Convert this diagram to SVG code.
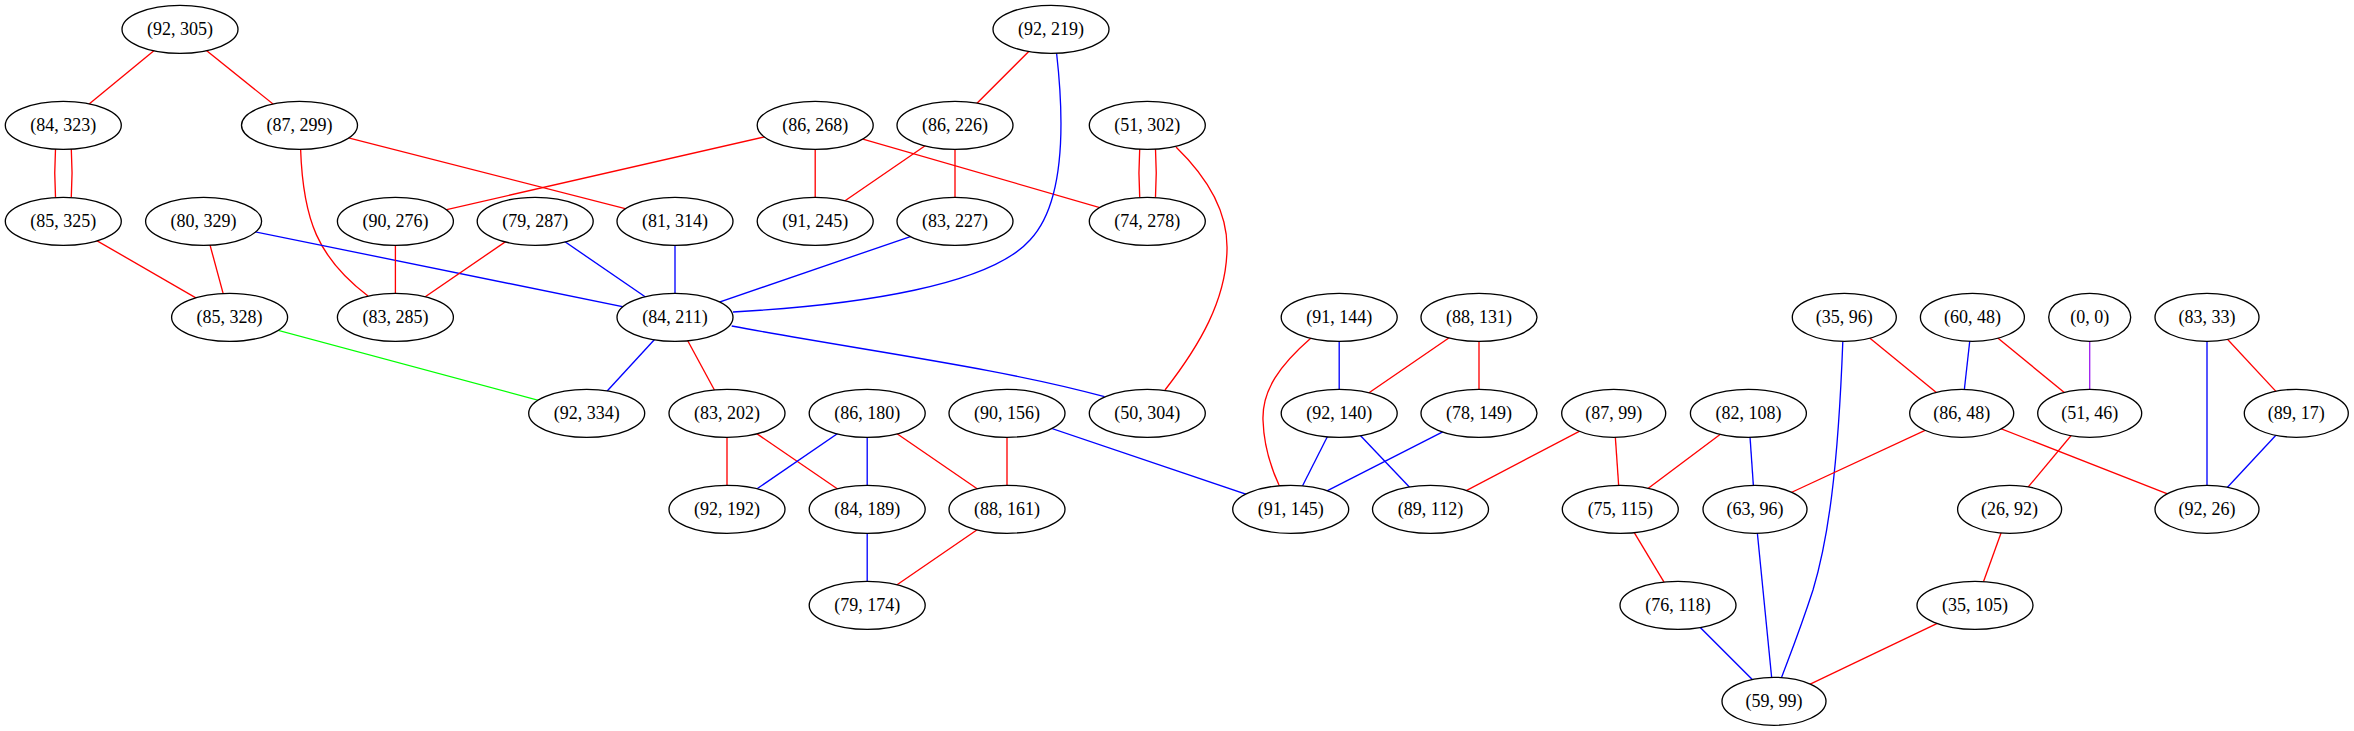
<svg xmlns="http://www.w3.org/2000/svg" width="2354" height="731" viewBox="0 0 2354 731">
<style>
.n ellipse{fill:#fff;stroke:#000;stroke-width:1.33}
.n text{font-family:"Liberation Serif","Times New Roman",serif;font-size:18px;text-anchor:middle;fill:#000}
#edges path,#edges line{fill:none;stroke-width:1.33}
.r{stroke:#ff0000}.b{stroke:#0000ff}.g{stroke:#00ff00}.p{stroke:#a020f0}
</style>
<rect width="2354" height="731" fill="#fff"/>
<g id="edges">
<line class="r" x1="180" y1="29.3" x2="63.3" y2="125.3"/>
<line class="r" x1="180" y1="29.3" x2="299.5" y2="125.3"/>
<path class="r" d="M55.5,149 C54.5,165 54.5,181 55.5,197"/>
<path class="r" d="M71.3,149 C72.3,165 72.3,181 71.3,197"/>
<line class="r" x1="299.5" y1="125.3" x2="675" y2="221.3"/>
<path class="r" d="M300.6,149 C303,220 318,258 368,296"/>
<line class="r" x1="815.2" y1="125.3" x2="395.4" y2="221.3"/>
<line class="r" x1="815.2" y1="125.3" x2="815.2" y2="221.3"/>
<line class="r" x1="815.2" y1="125.3" x2="1147.3" y2="221.3"/>
<line class="r" x1="1051" y1="29.3" x2="955" y2="125.3"/>
<path class="b" d="M1056.6,53.3 C1063,110 1068,200 1030,240 C990,285 860,305 733,312"/>
<line class="r" x1="955" y1="125.3" x2="815.2" y2="221.3"/>
<line class="r" x1="955" y1="125.3" x2="955" y2="221.3"/>
<path class="r" d="M1139.7,149 C1138.7,165 1138.7,181 1139.7,197"/>
<path class="r" d="M1155.5,149 C1156.5,165 1156.5,181 1155.5,197"/>
<path class="r" d="M1176,147 C1210,180 1228,215 1227,250 C1226,300 1200,345 1165,390"/>
<line class="r" x1="63.3" y1="221.3" x2="229.6" y2="317.3"/>
<line class="r" x1="203.6" y1="221.3" x2="229.6" y2="317.3"/>
<line class="b" x1="203.6" y1="221.3" x2="675" y2="317.3"/>
<line class="r" x1="395.4" y1="221.3" x2="395.4" y2="317.3"/>
<line class="r" x1="535.2" y1="221.3" x2="395.4" y2="317.3"/>
<line class="b" x1="535.2" y1="221.3" x2="675" y2="317.3"/>
<line class="b" x1="675" y1="221.3" x2="675" y2="317.3"/>
<line class="b" x1="955" y1="221.3" x2="675" y2="317.3"/>
<line class="g" x1="229.6" y1="317.3" x2="586.7" y2="413.3"/>
<line class="b" x1="675" y1="317.3" x2="586.7" y2="413.3"/>
<line class="r" x1="675" y1="317.3" x2="727" y2="413.3"/>
<path class="b" d="M731.7,326 C860,350 1000,368 1104.5,396.7"/>
<line class="r" x1="727" y1="413.3" x2="727" y2="509.3"/>
<line class="r" x1="727" y1="413.3" x2="867.2" y2="509.3"/>
<line class="b" x1="867.2" y1="413.3" x2="727" y2="509.3"/>
<line class="b" x1="867.2" y1="413.3" x2="867.2" y2="509.3"/>
<line class="r" x1="867.2" y1="413.3" x2="1007" y2="509.3"/>
<line class="r" x1="1007" y1="413.3" x2="1007" y2="509.3"/>
<line class="b" x1="1007" y1="413.3" x2="1290.7" y2="509.3"/>
<line class="b" x1="867.2" y1="509.3" x2="867.2" y2="605.3"/>
<line class="r" x1="1007" y1="509.3" x2="867.2" y2="605.3"/>
<line class="b" x1="1339.2" y1="317.3" x2="1339.2" y2="413.3"/>
<path class="r" d="M1311,338 C1280,365 1262,390 1263,420 C1264,450 1272,470 1279,485"/>
<line class="r" x1="1479" y1="317.3" x2="1339.2" y2="413.3"/>
<line class="r" x1="1479" y1="317.3" x2="1479" y2="413.3"/>
<line class="b" x1="1339.2" y1="413.3" x2="1290.7" y2="509.3"/>
<line class="b" x1="1339.2" y1="413.3" x2="1430.5" y2="509.3"/>
<line class="b" x1="1479" y1="413.3" x2="1290.7" y2="509.3"/>
<line class="r" x1="1613.7" y1="413.3" x2="1430.5" y2="509.3"/>
<line class="r" x1="1613.7" y1="413.3" x2="1620.3" y2="509.3"/>
<line class="r" x1="1748.4" y1="413.3" x2="1620.3" y2="509.3"/>
<line class="b" x1="1748.4" y1="413.3" x2="1755" y2="509.3"/>
<line class="r" x1="1844.3" y1="317.3" x2="1961.7" y2="413.3"/>
<path class="b" d="M1842.8,341.7 C1838,470 1828,540 1813,590 C1800,630 1790,655 1781,679"/>
<line class="b" x1="1972.4" y1="317.3" x2="1961.7" y2="413.3"/>
<line class="r" x1="1972.4" y1="317.3" x2="2089.7" y2="413.3"/>
<line class="p" x1="2089.7" y1="317.3" x2="2089.7" y2="413.3"/>
<line class="b" x1="2207" y1="317.3" x2="2207" y2="509.3"/>
<line class="r" x1="2207" y1="317.3" x2="2296.3" y2="413.3"/>
<line class="b" x1="2296.3" y1="413.3" x2="2207" y2="509.3"/>
<line class="r" x1="1961.7" y1="413.3" x2="1755" y2="509.3"/>
<line class="r" x1="1961.7" y1="413.3" x2="2207" y2="509.3"/>
<line class="r" x1="2089.7" y1="413.3" x2="2009.6" y2="509.3"/>
<line class="r" x1="2009.6" y1="509.3" x2="1975" y2="605.3"/>
<line class="r" x1="1975" y1="605.3" x2="1774" y2="701.3"/>
<line class="r" x1="1620.3" y1="509.3" x2="1678" y2="605.3"/>
<line class="b" x1="1678" y1="605.3" x2="1774" y2="701.3"/>
<line class="b" x1="1755" y1="509.3" x2="1774" y2="701.3"/>
</g>
<g id="n92_305" class="n"><ellipse cx="180" cy="29.3" rx="58" ry="24"/><text x="180" y="35.3">(92, 305)</text></g>
<g id="n92_219" class="n"><ellipse cx="1051" cy="29.3" rx="58" ry="24"/><text x="1051" y="35.3">(92, 219)</text></g>
<g id="n84_323" class="n"><ellipse cx="63.3" cy="125.3" rx="58" ry="24"/><text x="63.3" y="131.3">(84, 323)</text></g>
<g id="n87_299" class="n"><ellipse cx="299.5" cy="125.3" rx="58" ry="24"/><text x="299.5" y="131.3">(87, 299)</text></g>
<g id="n86_268" class="n"><ellipse cx="815.2" cy="125.3" rx="58" ry="24"/><text x="815.2" y="131.3">(86, 268)</text></g>
<g id="n86_226" class="n"><ellipse cx="955" cy="125.3" rx="58" ry="24"/><text x="955" y="131.3">(86, 226)</text></g>
<g id="n51_302" class="n"><ellipse cx="1147.3" cy="125.3" rx="58" ry="24"/><text x="1147.3" y="131.3">(51, 302)</text></g>
<g id="n85_325" class="n"><ellipse cx="63.3" cy="221.3" rx="58" ry="24"/><text x="63.3" y="227.3">(85, 325)</text></g>
<g id="n80_329" class="n"><ellipse cx="203.6" cy="221.3" rx="58" ry="24"/><text x="203.6" y="227.3">(80, 329)</text></g>
<g id="n90_276" class="n"><ellipse cx="395.4" cy="221.3" rx="58" ry="24"/><text x="395.4" y="227.3">(90, 276)</text></g>
<g id="n79_287" class="n"><ellipse cx="535.2" cy="221.3" rx="58" ry="24"/><text x="535.2" y="227.3">(79, 287)</text></g>
<g id="n81_314" class="n"><ellipse cx="675" cy="221.3" rx="58" ry="24"/><text x="675" y="227.3">(81, 314)</text></g>
<g id="n91_245" class="n"><ellipse cx="815.2" cy="221.3" rx="58" ry="24"/><text x="815.2" y="227.3">(91, 245)</text></g>
<g id="n83_227" class="n"><ellipse cx="955" cy="221.3" rx="58" ry="24"/><text x="955" y="227.3">(83, 227)</text></g>
<g id="n74_278" class="n"><ellipse cx="1147.3" cy="221.3" rx="58" ry="24"/><text x="1147.3" y="227.3">(74, 278)</text></g>
<g id="n85_328" class="n"><ellipse cx="229.6" cy="317.3" rx="58" ry="24"/><text x="229.6" y="323.3">(85, 328)</text></g>
<g id="n83_285" class="n"><ellipse cx="395.4" cy="317.3" rx="58" ry="24"/><text x="395.4" y="323.3">(83, 285)</text></g>
<g id="n84_211" class="n"><ellipse cx="675" cy="317.3" rx="58" ry="24"/><text x="675" y="323.3">(84, 211)</text></g>
<g id="n91_144" class="n"><ellipse cx="1339.2" cy="317.3" rx="58" ry="24"/><text x="1339.2" y="323.3">(91, 144)</text></g>
<g id="n88_131" class="n"><ellipse cx="1479" cy="317.3" rx="58" ry="24"/><text x="1479" y="323.3">(88, 131)</text></g>
<g id="n35_96" class="n"><ellipse cx="1844.3" cy="317.3" rx="52" ry="24"/><text x="1844.3" y="323.3">(35, 96)</text></g>
<g id="n60_48" class="n"><ellipse cx="1972.4" cy="317.3" rx="52" ry="24"/><text x="1972.4" y="323.3">(60, 48)</text></g>
<g id="n0_0" class="n"><ellipse cx="2089.7" cy="317.3" rx="41" ry="24"/><text x="2089.7" y="323.3">(0, 0)</text></g>
<g id="n83_33" class="n"><ellipse cx="2207" cy="317.3" rx="52" ry="24"/><text x="2207" y="323.3">(83, 33)</text></g>
<g id="n92_334" class="n"><ellipse cx="586.7" cy="413.3" rx="58" ry="24"/><text x="586.7" y="419.3">(92, 334)</text></g>
<g id="n83_202" class="n"><ellipse cx="727" cy="413.3" rx="58" ry="24"/><text x="727" y="419.3">(83, 202)</text></g>
<g id="n86_180" class="n"><ellipse cx="867.2" cy="413.3" rx="58" ry="24"/><text x="867.2" y="419.3">(86, 180)</text></g>
<g id="n90_156" class="n"><ellipse cx="1007" cy="413.3" rx="58" ry="24"/><text x="1007" y="419.3">(90, 156)</text></g>
<g id="n50_304" class="n"><ellipse cx="1147.3" cy="413.3" rx="58" ry="24"/><text x="1147.3" y="419.3">(50, 304)</text></g>
<g id="n92_140" class="n"><ellipse cx="1339.2" cy="413.3" rx="58" ry="24"/><text x="1339.2" y="419.3">(92, 140)</text></g>
<g id="n78_149" class="n"><ellipse cx="1479" cy="413.3" rx="58" ry="24"/><text x="1479" y="419.3">(78, 149)</text></g>
<g id="n87_99" class="n"><ellipse cx="1613.7" cy="413.3" rx="52" ry="24"/><text x="1613.7" y="419.3">(87, 99)</text></g>
<g id="n82_108" class="n"><ellipse cx="1748.4" cy="413.3" rx="58" ry="24"/><text x="1748.4" y="419.3">(82, 108)</text></g>
<g id="n86_48" class="n"><ellipse cx="1961.7" cy="413.3" rx="52" ry="24"/><text x="1961.7" y="419.3">(86, 48)</text></g>
<g id="n51_46" class="n"><ellipse cx="2089.7" cy="413.3" rx="52" ry="24"/><text x="2089.7" y="419.3">(51, 46)</text></g>
<g id="n89_17" class="n"><ellipse cx="2296.3" cy="413.3" rx="52" ry="24"/><text x="2296.3" y="419.3">(89, 17)</text></g>
<g id="n92_192" class="n"><ellipse cx="727" cy="509.3" rx="58" ry="24"/><text x="727" y="515.3">(92, 192)</text></g>
<g id="n84_189" class="n"><ellipse cx="867.2" cy="509.3" rx="58" ry="24"/><text x="867.2" y="515.3">(84, 189)</text></g>
<g id="n88_161" class="n"><ellipse cx="1007" cy="509.3" rx="58" ry="24"/><text x="1007" y="515.3">(88, 161)</text></g>
<g id="n91_145" class="n"><ellipse cx="1290.7" cy="509.3" rx="58" ry="24"/><text x="1290.7" y="515.3">(91, 145)</text></g>
<g id="n89_112" class="n"><ellipse cx="1430.5" cy="509.3" rx="58" ry="24"/><text x="1430.5" y="515.3">(89, 112)</text></g>
<g id="n75_115" class="n"><ellipse cx="1620.3" cy="509.3" rx="58" ry="24"/><text x="1620.3" y="515.3">(75, 115)</text></g>
<g id="n63_96" class="n"><ellipse cx="1755" cy="509.3" rx="52" ry="24"/><text x="1755" y="515.3">(63, 96)</text></g>
<g id="n26_92" class="n"><ellipse cx="2009.6" cy="509.3" rx="52" ry="24"/><text x="2009.6" y="515.3">(26, 92)</text></g>
<g id="n92_26" class="n"><ellipse cx="2207" cy="509.3" rx="52" ry="24"/><text x="2207" y="515.3">(92, 26)</text></g>
<g id="n79_174" class="n"><ellipse cx="867.2" cy="605.3" rx="58" ry="24"/><text x="867.2" y="611.3">(79, 174)</text></g>
<g id="n76_118" class="n"><ellipse cx="1678" cy="605.3" rx="58" ry="24"/><text x="1678" y="611.3">(76, 118)</text></g>
<g id="n35_105" class="n"><ellipse cx="1975" cy="605.3" rx="58" ry="24"/><text x="1975" y="611.3">(35, 105)</text></g>
<g id="n59_99" class="n"><ellipse cx="1774" cy="701.3" rx="52" ry="24"/><text x="1774" y="707.3">(59, 99)</text></g>
</svg>
